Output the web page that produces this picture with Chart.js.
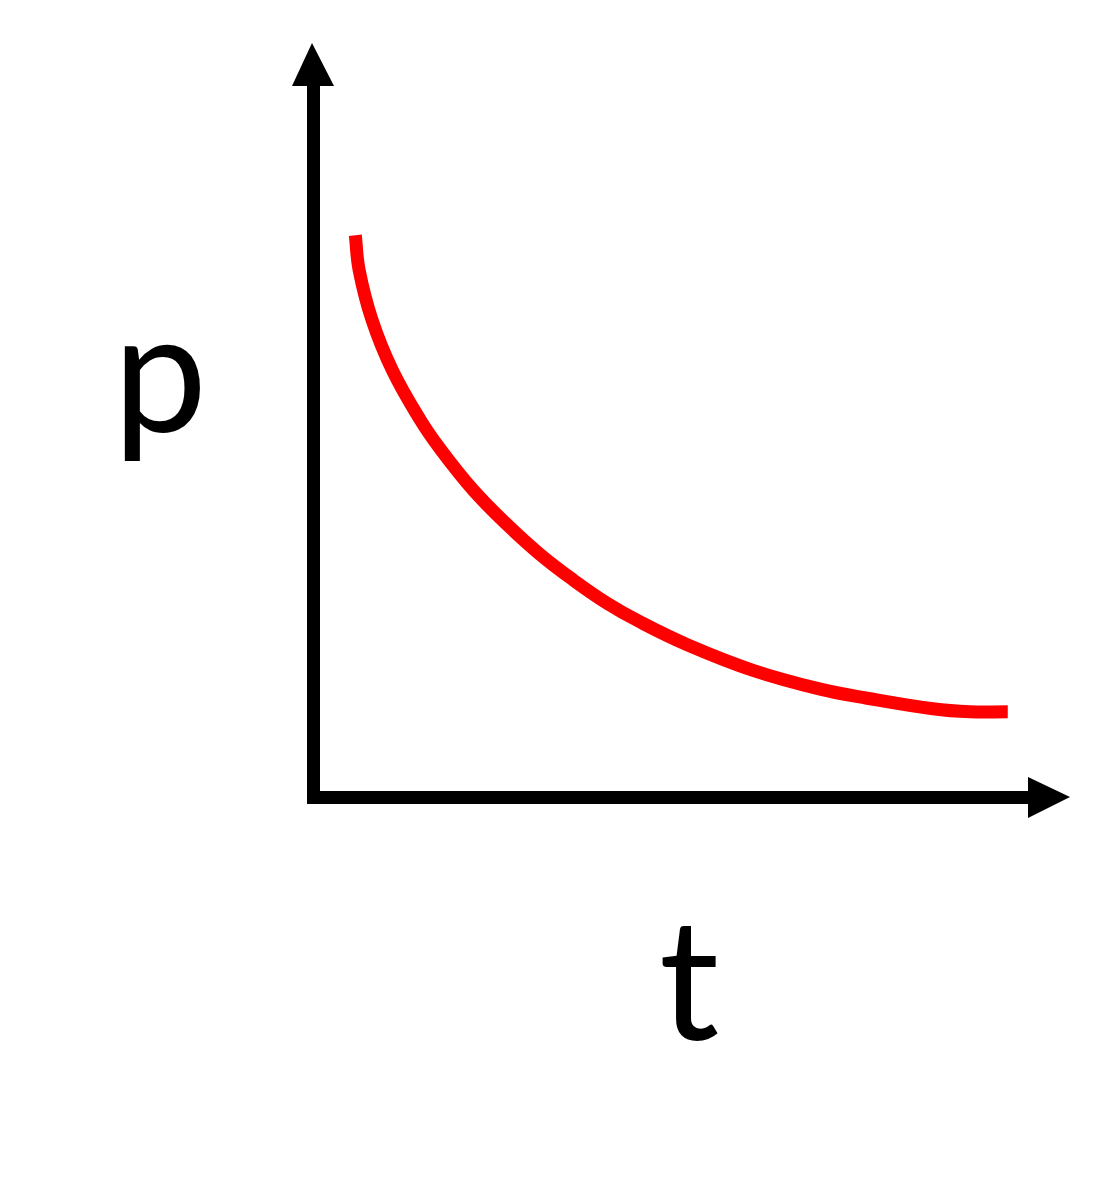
<!DOCTYPE html>
<html>
<head>
<meta charset="utf-8">
<script src="https://cdn.jsdelivr.net/npm/chart.js@4/dist/chart.umd.min.js"></script>
<style>
    html, body { margin: 0; padding: 0; background: #fff; }
    #wrap { width: 1113px; height: 1200px; }
</style>
</head>
<body>
<div id="wrap"><canvas id="chart"></canvas></div>
<script>
// curve (x = t, y = p, arbitrary units 0..10)
const tValues = [0.56, 0.61, 0.78, 1.05, 1.42, 1.68, 2.12, 2.57, 3.00, 3.44, 3.89, 4.33, 4.95, 5.82, 6.71, 7.33, 8.20, 8.69, 9.19]
const pValues = [7.45, 6.99, 6.33, 5.66, 5.00, 4.62, 4.07, 3.61, 3.22, 2.88, 2.57, 2.32, 2.02, 1.68, 1.43, 1.31, 1.17, 1.13, 1.13]
const xLabel = "t"
const yLabel = "p"

const axesPlugin = {
    id: "arrowAxes",
    beforeDatasetsDraw(chart) {
        const { ctx, chartArea } = chart
        const left = chart.scales.x.getPixelForValue(0)
        const bottom = chart.scales.y.getPixelForValue(0)
        const w = 13
        const x0 = Math.round(left - w / 2)
        const y0 = Math.round(bottom - w / 2)
        ctx.save()
        ctx.fillStyle = "#000"
        // y axis shaft + head
        ctx.fillRect(x0, chartArea.top + 42, w, y0 + w - chartArea.top - 42)
        ctx.beginPath()
        ctx.moveTo(left - 21, chartArea.top + 43)
        ctx.lineTo(left + 21, chartArea.top + 43)
        ctx.lineTo(left - 1, chartArea.top)
        ctx.closePath()
        ctx.fill()
        // x axis shaft + head
        ctx.fillRect(x0, y0, chartArea.right - 40 - x0, w)
        ctx.beginPath()
        ctx.moveTo(chartArea.right - 41, bottom - 20)
        ctx.lineTo(chartArea.right - 41, bottom + 21)
        ctx.lineTo(chartArea.right + 1, bottom)
        ctx.closePath()
        ctx.fill()

        ctx.font = "168px Lato"
        ctx.textAlign = "center"
        ctx.textBaseline = "alphabetic"
        ctx.fillText(yLabel, 160, 432)
        ctx.fillText(xLabel, 689, 1040)
        ctx.restore()
    }
}

const ctx = document.getElementById("chart").getContext("2d")
new Chart(ctx, {
    type: "line",
    data: {
        datasets: [{
            data: tValues.map((t, i) => ({ x: t, y: pValues[i] })),
            borderColor: "#ff0000",
            borderWidth: 13,
            borderCapStyle: "butt",
            pointRadius: 0,
            tension: 0.4,
            fill: false
        }]
    },
    options: {
        responsive: true,
        maintainAspectRatio: false,
        animation: false,
        layout: {
            padding: { left: 313, right: 44, top: 43, bottom: 403 }
        },
        plugins: {
            legend: { display: false },
            tooltip: { enabled: false }
        },
        scales: {
            x: { type: "linear", min: 0, max: 10, display: false },
            y: { type: "linear", min: 0, max: 10, display: false }
        }
    },
    plugins: [axesPlugin]
})
</script>
</body>
</html>
